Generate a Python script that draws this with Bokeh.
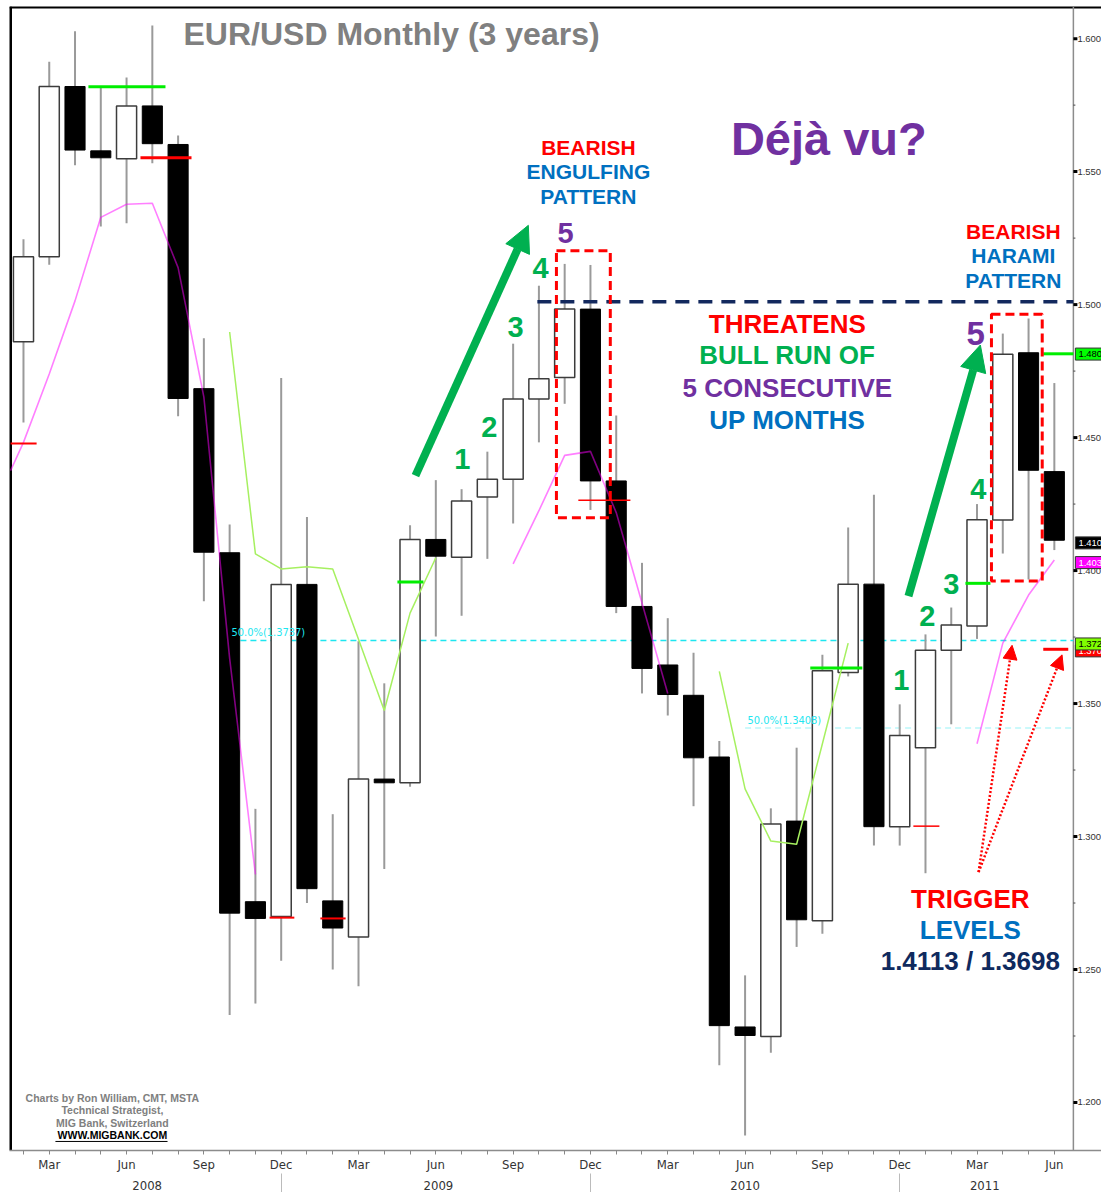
from bokeh.plotting import figure
from bokeh.models import Range1d, LinearAxis, FixedTicker, Label, Arrow, NormalHead
from bokeh.core.properties import value
from bokeh.embed import file_html
from bokeh.resources import INLINE

# ---------------- data ----------------
months = [
    "Feb 2008", "Mar 2008", "Apr 2008", "May 2008", "Jun 2008", "Jul 2008", "Aug 2008", "Sep 2008",
    "Oct 2008", "Nov 2008", "Dec 2008",
    "Jan 2009", "Feb 2009", "Mar 2009", "Apr 2009", "May 2009", "Jun 2009", "Jul 2009", "Aug 2009",
    "Sep 2009", "Oct 2009", "Nov 2009", "Dec 2009",
    "Jan 2010", "Feb 2010", "Mar 2010", "Apr 2010", "May 2010", "Jun 2010", "Jul 2010", "Aug 2010",
    "Sep 2010", "Oct 2010", "Nov 2010", "Dec 2010",
    "Jan 2011", "Feb 2011", "Mar 2011", "Apr 2011", "May 2011", "Jun 2011",
]
opens = [1.4860, 1.5180, 1.5820, 1.5578, 1.5548, 1.5747, 1.5602, 1.4684, 1.4067, 1.2755, 1.2699,
         1.3948, 1.2758, 1.2622, 1.3216, 1.3202, 1.4117, 1.4050, 1.4277, 1.4343, 1.4645, 1.4726, 1.4983,
         1.4337, 1.3865, 1.3645, 1.3531, 1.3299, 1.2284, 1.2248, 1.3058, 1.2683, 1.3617, 1.3949, 1.3037,
         1.3334, 1.3700, 1.3792, 1.4190, 1.4819, 1.4372]
highs = [1.5246, 1.5913, 1.6028, 1.5820, 1.5854, 1.6049, 1.5636, 1.4873, 1.4173, 1.3104, 1.4724,
         1.4201, 1.3084, 1.3734, 1.3576, 1.4170, 1.4340, 1.4306, 1.4447, 1.4853, 1.5071, 1.5153, 1.5149,
         1.4583, 1.4029, 1.3821, 1.3691, 1.3359, 1.2478, 1.3106, 1.3334, 1.3683, 1.4162, 1.4285, 1.3497,
         1.3760, 1.3861, 1.4250, 1.4891, 1.4948, 1.4705]
lows = [1.4557, 1.5150, 1.5524, 1.5294, 1.5306, 1.5531, 1.4580, 1.3885, 1.2329, 1.2372, 1.2533,
        1.2750, 1.2500, 1.2437, 1.2878, 1.3187, 1.3752, 1.3830, 1.4044, 1.4177, 1.4482, 1.4627, 1.4228,
        1.3840, 1.3538, 1.3455, 1.3114, 1.2140, 1.1876, 1.2187, 1.2585, 1.2634, 1.3602, 1.2966, 1.2966,
        1.2862, 1.3422, 1.3743, 1.4064, 1.3966, 1.4077]
closes = [1.5180, 1.5820, 1.5581, 1.5552, 1.5747, 1.5605, 1.4647, 1.4069, 1.2712, 1.2692, 1.3948,
          1.2804, 1.2656, 1.3216, 1.3202, 1.4117, 1.4054, 1.4262, 1.4343, 1.4645, 1.4721, 1.4983, 1.4337,
          1.3865, 1.3632, 1.3534, 1.3296, 1.2289, 1.2252, 1.3047, 1.2687, 1.3623, 1.3949, 1.3037, 1.3380,
          1.3700, 1.3795, 1.4191, 1.4813, 1.4377, 1.4114]

# moving-average style overlays (month index, price)
pink_segments = [
    ([0.5, 1, 2, 3, 4, 5, 6, 7, 8, 9, 10],
     [1.4376, 1.4482, 1.4739, 1.5014, 1.5328, 1.5377, 1.5381, 1.5139, 1.4652, 1.3670, 1.2858]),
    ([20, 21, 22, 23, 24, 25, 26],
     [1.4025, 1.4225, 1.4433, 1.4448, 1.4218, 1.3878, 1.3538]),
    ([38, 39, 40, 41],
     [1.3349, 1.3727, 1.3908, 1.4040]),
]
green_segments = [
    ([9, 10, 11, 12, 13, 14, 15, 16, 17],
     [1.4897, 1.4063, 1.4006, 1.4014, 1.4006, 1.3742, 1.3474, 1.3840, 1.4048]),
    ([28, 29, 30, 31, 32, 33],
     [1.3621, 1.3179, 1.2983, 1.2971, 1.3349, 1.3727]),
]

# short horizontal level marks: start month, end month, price, colour, width
mark_x0 = [0.50, 3.52, 5.54, 10.55, 12.52, 15.51, 22.53, 31.53, 35.53, 37.55, 40.57, 40.57]
mark_x1 = [1.51, 6.51, 7.52, 11.51, 13.50, 16.52, 24.55, 33.55, 36.54, 38.52, 41.74, 41.54]
mark_y = [1.4478, 1.5819, 1.5552, 1.2695, 1.2692, 1.3957, 1.4264, 1.3634, 1.3039, 1.3952, 1.4815, 1.3704]
mark_color = ["#FF0000", "#00EE00", "#FF0000", "#FF0000", "#FF0000", "#00EE00", "#FF0000",
              "#00EE00", "#FF0000", "#00EE00", "#00EE00", "#FF0000"]
mark_width = [2, 3, 3, 2, 2, 3, 1.5, 3, 1.5, 3, 3, 3]

fib_levels = [1.3737, 1.3408]
fib_start = [9.03, 29.0]
fib_texts = ["50.0%(1.3737)", "50.0%(1.3408)"]
resistance_level = 1.5011

y_ticks = [1.20, 1.25, 1.30, 1.35, 1.40, 1.45, 1.50, 1.55, 1.60]
y_tick_labels = ["1.200", "1.250", "1.300", "1.350", "1.400", "1.450", "1.500", "1.550", "1.600"]
y_minor_ticks = [1.225, 1.275, 1.325, 1.375, 1.425, 1.475, 1.525, 1.575]

year_labels = ["2008", "2009", "2010", "2011"]
year_label_pos = [5.8, 17.1, 29.0, 38.3]
year_sep_pos = [11, 23, 35]

tag_values = [1.4814, 1.4104, 1.4030, 1.3698, 1.3724]
tag_texts = ["1.480", "1.410", "1.403", "1.370", "1.372"]
tag_bg = ["#00FF00", "#000000", "#FF00FF", "#FF0000", "#80FF00"]
tag_fg = ["black", "white", "white", "white", "black"]

# ---------------- figure ----------------
x = list(range(1, len(months) + 1))
x_lo, x_hi = 0.4578, 42.83        # frame runs to the right edge; price scale drawn inside
axis_x = 41.739                   # position of the price scale line
y_lo, y_hi = 1.18195, 1.61208
PX = 1.0 / 25.775                 # one pixel in month units

NARROW = "DejaVu Sans Condensed, Liberation Sans"
BOLD = "Liberation Sans"

p = figure(width=1101, height=1192, x_range=Range1d(x_lo, x_hi), y_range=Range1d(y_lo, y_hi),
           output_backend="svg", toolbar_location=None,
           x_axis_location=None, y_axis_location=None,
           min_border_left=9, min_border_right=0, min_border_top=6, min_border_bottom=6,
           background_fill_color="white", border_fill_color="white",
           outline_line_color=None)
p.grid.visible = False

month_labels = {}
for xi, m in zip(x, months):
    short = m[:3]
    month_labels[xi] = short if short in ("Mar", "Jun", "Sep", "Dec") else ""
ax_m = LinearAxis(ticker=FixedTicker(ticks=x, minor_ticks=[]),
                  major_label_overrides=month_labels,
                  axis_line_color="#8c8c8c", axis_line_width=1.5,
                  major_tick_in=0, major_tick_out=4, major_tick_line_color="#888888",
                  minor_tick_in=0, minor_tick_out=0,
                  major_label_standoff=2, major_label_text_font=NARROW,
                  major_label_text_font_size="13px", major_label_text_color="#333333")
p.add_layout(ax_m, "below")

ax_yr = LinearAxis(ticker=FixedTicker(ticks=year_label_pos, minor_ticks=[]),
                   major_label_overrides=dict(zip(year_label_pos, year_labels)),
                   axis_line_color=None, major_tick_in=0, major_tick_out=0,
                   minor_tick_in=0, minor_tick_out=0,
                   major_label_standoff=6, major_label_text_font=NARROW,
                   major_label_text_font_size="13px", major_label_text_color="#333333")
p.add_layout(ax_yr, "below")

ax_sep = LinearAxis(ticker=FixedTicker(ticks=year_sep_pos, minor_ticks=[]),
                    major_label_overrides={t: "" for t in year_sep_pos},
                    axis_line_color=None, major_tick_in=19, major_tick_out=0,
                    major_tick_line_color="#bbbbbb", minor_tick_in=0, minor_tick_out=0,
                    major_label_standoff=0, major_label_text_font_size="1px")
p.add_layout(ax_sep, "below")

# frame borders (left / top black, price-scale line grey)
p.segment(x0=[x_lo], y0=[y_lo], x1=[x_lo], y1=[y_hi], line_color="black", line_width=5)
p.segment(x0=[x_lo], y0=[y_hi], x1=[x_hi], y1=[y_hi], line_color="black", line_width=4)
p.segment(x0=[axis_x], y0=[y_lo], x1=[axis_x], y1=[y_hi], line_color="#8c8c8c", line_width=1.5)

# fib retracement lines
p.segment(x0=[fib_start[0]], y0=[fib_levels[0]], x1=[axis_x], y1=[fib_levels[0]],
          line_color="#1EE6F0", line_width=1.5, line_dash="6 4")
p.segment(x0=[fib_start[1]], y0=[fib_levels[1]], x1=[axis_x], y1=[fib_levels[1]],
          line_color="#1EE6F0", line_alpha=0.3, line_width=1.5, line_dash="6 4")

# candles
p.segment(x, highs, x, lows, line_color="#9a9a9a", line_width=2)
wx, wt, wb, bx, bt, bb = [], [], [], [], [], []
for xi, o, c in zip(x, opens, closes):
    if c >= o:
        wx.append(xi); wt.append(c); wb.append(o)
    else:
        bx.append(xi); bt.append(o); bb.append(c)
p.vbar(x=wx, width=0.78, top=wt, bottom=wb, fill_color="white", line_color="#3c3c3c", line_width=1.5)
p.vbar(x=bx, width=0.78, top=bt, bottom=bb, fill_color="black", line_color="black", line_width=1)

# resistance
p.segment(x0=[20.94], y0=[resistance_level], x1=[axis_x], y1=[resistance_level],
          line_color="#13295E", line_width=3.5, line_dash="14 9")

# overlays
for xs, ys in pink_segments:
    p.line(xs, ys, line_color="#FF00FF", line_alpha=0.5, line_width=1.6)
for xs, ys in green_segments:
    p.line(xs, ys, line_color="#A6F060", line_width=1.5)

p.segment(mark_x0, mark_y, mark_x1, mark_y, line_color=mark_color, line_width=mark_width)

# dashed pattern boxes
p.quad(left=[21.68, 38.56], right=[23.77, 40.53], top=[1.5202, 1.4964], bottom=[1.4199, 1.3961],
       fill_alpha=0, line_color="#FF0000", line_width=3, line_dash="9 5")

# arrows
G = "#00B050"
p.add_layout(Arrow(end=NormalHead(size=26, fill_color=G, line_color=G),
                   x_start=16.21, y_start=1.4357, x_end=20.59, y_end=1.5298,
                   line_color=G, line_width=8))
p.add_layout(Arrow(end=NormalHead(size=26, fill_color=G, line_color=G),
                   x_start=35.34, y_start=1.3904, x_end=38.13, y_end=1.4848,
                   line_color=G, line_width=8))
for xe, ye in [(39.36, 1.3719), (41.30, 1.3683)]:
    p.add_layout(Arrow(end=NormalHead(size=14, fill_color="#FF0000", line_color="#FF0000"),
                       x_start=38.06, y_start=1.2866, x_end=xe, y_end=ye,
                       line_color="#FF0000", line_width=2.5, line_dash="2 2"))

# price scale (drawn inside the extended frame)
p.segment(x0=[axis_x] * len(y_ticks), y0=y_ticks, x1=[axis_x + 4 * PX] * len(y_ticks), y1=y_ticks,
          line_color="black", line_width=3)
p.segment(x0=[axis_x] * len(y_minor_ticks), y0=y_minor_ticks,
          x1=[axis_x + 2 * PX] * len(y_minor_ticks), y1=y_minor_ticks,
          line_color="#444444", line_width=1)
p.text(x=[axis_x] * len(y_ticks), y=y_ticks, text=y_tick_labels, x_offset=4,
       text_font=value("Liberation Sans"), text_font_size="9.5px", text_color="#333333",
       text_baseline="middle", text_align="left")


def txt(s, xx, yy, color, size, align="center", font=BOLD, style="bold"):
    p.add_layout(Label(x=xx, y=yy, text=s, text_color=color, text_font_size=f"{size}px",
                       text_font=font, text_font_style=style, text_align=align,
                       text_baseline="middle"))


RED, BLUE, PURPLE, NAVY, GREY = "#FF0000", "#0070C0", "#7030A0", "#0F2A5E", "#808080"

txt("EUR/USD Monthly (3 years)", 7.21, 1.60189, GREY, 32, align="left")
txt("Déjà vu?", 32.25, 1.56261, PURPLE, 47)

for s, yy, c in zip(["BEARISH", "ENGULFING", "PATTERN"], [1.55902, 1.54996, 1.54071], [RED, BLUE, BLUE]):
    txt(s, 22.92, yy, c, 21)
for s, yy, c in zip(["BEARISH", "HARAMI", "PATTERN"], [1.52749, 1.51843, 1.50899], [RED, BLUE, BLUE]):
    txt(s, 39.41, yy, c, 21)
for s, yy, c in zip(["THREATENS", "BULL RUN OF", "5 CONSECUTIVE", "UP MONTHS"],
                    [1.49275, 1.48104, 1.46858, 1.45650], [RED, G, PURPLE, BLUE]):
    txt(s, 30.64, yy, c, 26)
for s, yy, c in zip(["TRIGGER", "LEVELS", "1.4113 / 1.3698"], [1.27636, 1.26503, 1.25332], [RED, BLUE, NAVY]):
    txt(s, 37.74, yy, c, 26)

for s, xx, yy, c, sz in zip(["1", "2", "3", "4", "5"], [18.03, 19.08, 20.09, 21.06, 22.03],
                            [1.44177, 1.45385, 1.49162, 1.51390, 1.52674], [G, G, G, G, PURPLE],
                            [29, 29, 29, 29, 29]):
    txt(s, xx, yy, c, sz)
for s, xx, yy, c, sz in zip(["1", "2", "3", "4", "5"], [35.06, 36.07, 37.0, 38.05, 37.95],
                            [1.35869, 1.38286, 1.39494, 1.43082, 1.48897], [G, G, G, G, PURPLE],
                            [29, 29, 29, 29, 33]):
    txt(s, xx, yy, c, sz)

txt(fib_texts[0], 9.07, 1.37681, "#1EE6F0", 11, align="left", font=NARROW, style="normal")
txt(fib_texts[1], 29.09, 1.34358, "#1EE6F0", 11, align="left", font=NARROW, style="normal")

for s, yy, c in zip(["Charts by Ron William, CMT, MSTA", "Technical Strategist,",
                     "MIG Bank, Switzerland", "WWW.MIGBANK.COM"],
                    [1.20158, 1.19705, 1.19215, 1.18761], [GREY, GREY, GREY, "black"]):
    txt(s, 4.45, yy, c, 10.5)
p.segment(x0=[2.24], y0=[1.18535], x1=[6.59], y1=[1.18535], line_color="black", line_width=1)

# price tags on the scale
for v, t, bg, fg in zip(tag_values, tag_texts, tag_bg, tag_fg):
    p.add_layout(Label(x=axis_x, y=v, text=t, x_offset=2, text_baseline="middle", text_align="left",
                       text_font="Liberation Sans", text_font_size="9.5px", text_color=fg,
                       background_fill_color=bg, border_line_color="#333333", padding=3))

open("out.html", "w").write(file_html(p, INLINE))
